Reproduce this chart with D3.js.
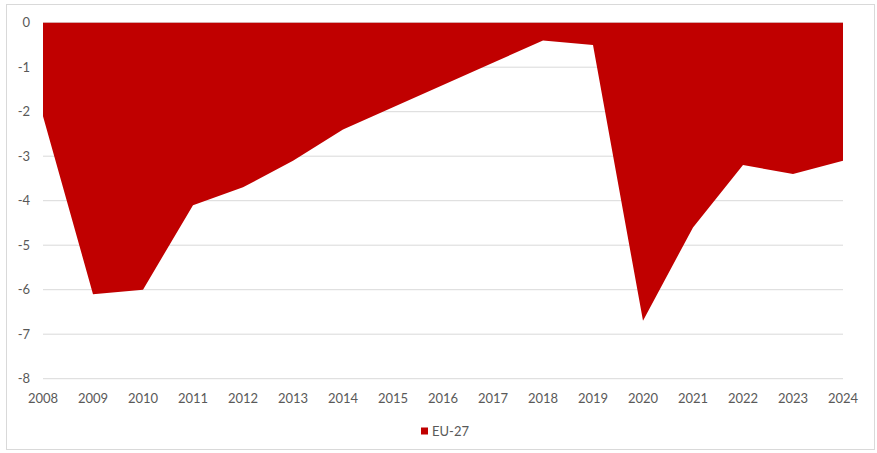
<!DOCTYPE html>
<html>
<head>
<meta charset="utf-8">
<script src="https://cdn.jsdelivr.net/npm/d3@7"></script>
<style>
  html, body { margin: 0; padding: 0; background: #fff; }
  svg text { font-family: Lato, "Liberation Sans", sans-serif; fill: #595959; }
</style>
</head>
<body>
<svg id="chart" width="877" height="453"></svg>
<script>
// data
const years  = [2008, 2009, 2010, 2011, 2012, 2013, 2014, 2015, 2016,
                2017, 2018, 2019, 2020, 2021, 2022, 2023, 2024];
const eu27   = [-2.1, -6.1, -6.0, -4.1, -3.7, -3.1, -2.4, -1.9, -1.4,
                -0.9, -0.4, -0.5, -6.7, -4.6, -3.2, -3.4, -3.1];
const yTicks = [0, -1, -2, -3, -4, -5, -6, -7, -8];
const seriesName = 'EU-27';

const W = 877, H = 453;
const m = { left: 43, right: 34, top: 22.7, bottom: 74.3 };

const svg = d3.select('#chart');

// outer frame
svg.append('rect')
   .attr('x', 6.5).attr('y', 4.5)
   .attr('width', 868).attr('height', 445)
   .attr('fill', '#fff')
   .attr('stroke', '#d9d9d9');

const x = d3.scalePoint(years, [m.left, W - m.right]);
const y = d3.scaleLinear([0, -8], [m.top, H - m.bottom]);

// gridlines
svg.append('g')
   .selectAll('line')
   .data(yTicks)
   .join('line')
     .attr('x1', m.left).attr('x2', W - m.right)
     .attr('y1', d => y(d)).attr('y2', d => y(d))
     .attr('stroke', '#d9d9d9')
     .attr('stroke-width', 1);

// area
const rows = years.map((yr, i) => ({ year: yr, v: eu27[i] }));
svg.append('path')
   .datum(rows)
   .attr('fill', '#c00000')
   .attr('d', d3.area()
     .x(d => x(d.year))
     .y0(y(0))
     .y1(d => y(d.v)));

// y labels
svg.append('g')
   .selectAll('text')
   .data(yTicks)
   .join('text')
     .attr('x', 30)
     .attr('y', d => y(d))
     .attr('dy', '0.35em')
     .attr('text-anchor', 'end')
     .attr('font-size', 13)
     .text(d => d);

// x labels
svg.append('g')
   .selectAll('text')
   .data(years)
   .join('text')
     .attr('x', d => x(d))
     .attr('y', 398)
     .attr('dy', '0.35em')
     .attr('text-anchor', 'middle')
     .attr('font-size', 13)
     .text(d => d);

// legend
const lg = svg.append('g').attr('transform', 'translate(421,431)');
lg.append('rect')
  .attr('x', 0).attr('y', -3.5)
  .attr('width', 7).attr('height', 7)
  .attr('fill', '#c00000');
lg.append('text')
  .attr('x', 11).attr('y', 0)
  .attr('dy', '0.35em')
  .attr('font-size', 13)
  .text(seriesName);
</script>
</body>
</html>
